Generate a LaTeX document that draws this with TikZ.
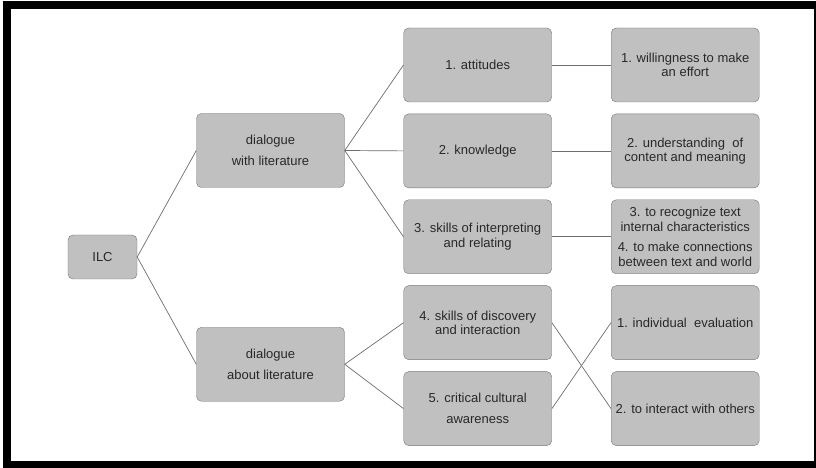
\documentclass[tikz,border=0pt]{standalone}
\usepackage{fontspec}
\setmainfont{Liberation Sans}
\usetikzlibrary{positioning,chains}

\definecolor{boxfill}{RGB}{192,192,192}
\definecolor{boxline}{RGB}{118,118,118}
\definecolor{edgeline}{RGB}{110,110,110}
\definecolor{textgray}{RGB}{40,40,40}

\begin{document}
\begin{tikzpicture}[x=1pt,y=1pt,
      every node/.style={draw=boxline,fill=boxfill,rounded corners=5pt,
        align=center,inner sep=2pt,text=textgray,
        font=\fontsize{13}{14.5}\selectfont},
      cbox/.style={minimum width=148pt,minimum height=74pt},
      edge/.style={draw=edgeline,line width=0.7pt}
    ]
    \useasboundingbox (0,0) rectangle (816,468);

    % the frame
    \fill[black] (3,0) rectangle (816,467);
    \fill[white] (11,7) rectangle (814,459);

    % the root and the two dialogues
    \node[minimum width=69pt,minimum height=44pt] (ilc) at (102.5,211) {ILC};
    \node[cbox] (dw) at (270.5,317.5) {dialogue\\[6pt]with literature};
    \node[cbox] (da) at (270.5,103.7) {dialogue\\[6pt]about literature};

    % the five components
    \begin{scope}[xshift=477.7pt,yshift=403pt,start chain=going below,node distance=11.5pt]
    \foreach \i/\t in {1/{1. attitudes},
                       2/{2. knowledge},
                       3/{3. skills of interpreting\\and relating},
                       4/{4. skills of discovery\\and interaction},
                       5/{5. critical cultural\\[6pt]awareness}}
      \node[cbox,on chain] (m\i) {\t};
    \end{scope}

    % the objectives
    \begin{scope}[xshift=685.2pt,yshift=403pt,start chain=going below,node distance=11.5pt]
    \foreach \i/\t in {1/{1. willingness to make\\an effort},
                       2/{2. understanding\ \ of\\content and meaning},
                       3/{3. to recognize text\\internal characteristics\\[6pt]4. to make connections\\between text and world},
                       4/{1. individual\ \ evaluation},
                       5/{2. to interact with others}}
      \node[cbox,on chain] (r\i) {\t};
    \end{scope}

    % the edges
    \draw[edge] (ilc.east) -- (dw.west);
    \draw[edge] (ilc.east) -- (da.west);
    \foreach \i in {1,2,3}
        \draw[edge] (dw.east) -- (m\i.west);
    \foreach \i in {4,5}
        \draw[edge] (da.east) -- (m\i.west);
    \foreach \i/\j in {1/1,2/2,3/3,4/5,5/4}
        \draw[edge] (m\i.east) -- (r\j.west);
    \end{tikzpicture}
\end{document}
